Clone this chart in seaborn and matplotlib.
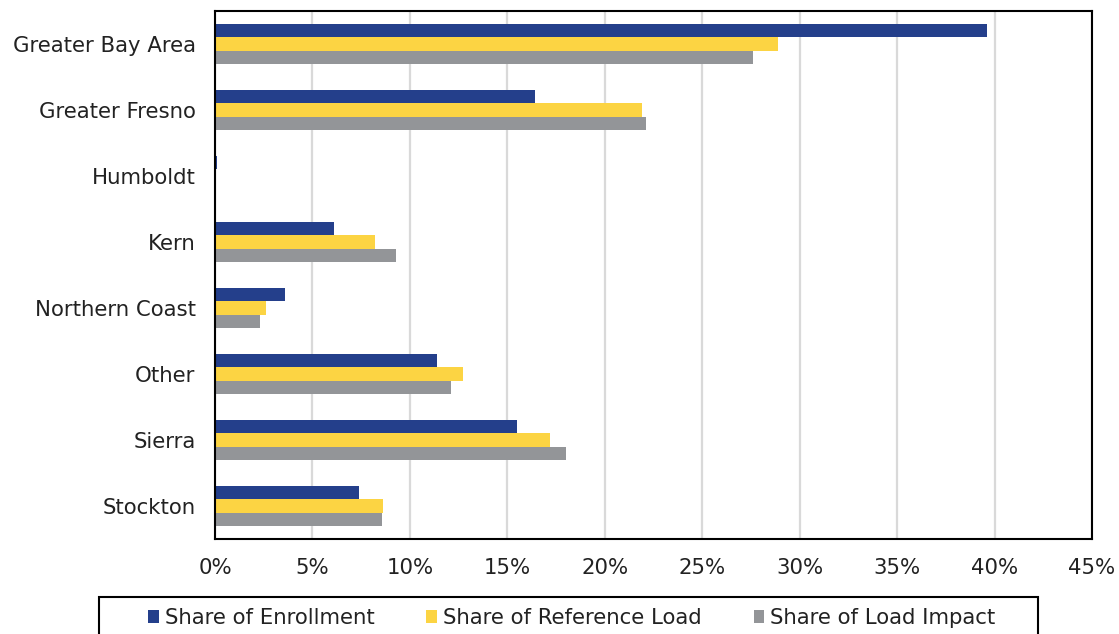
import matplotlib
matplotlib.use("Agg")
import matplotlib.pyplot as plt
from matplotlib.patches import Rectangle
from matplotlib.ticker import FixedLocator, PercentFormatter
import numpy as np
import pandas as pd
import seaborn as sns

# Regions and their shares (percent)
regions = ["Greater Bay Area", "Greater Fresno", "Humboldt", "Kern",
           "Northern Coast", "Other", "Sierra", "Stockton"]
enrollment = [39.6, 16.4, 0.1, 6.1, 3.6, 11.4, 15.5, 7.4]
reference_load = [28.9, 21.9, 0.0, 8.2, 2.6, 12.7, 17.2, 8.6]
load_impact = [27.6, 22.1, 0.0, 9.3, 2.3, 12.1, 18.0, 8.55]

series_names = ["Share of Enrollment", "Share of Reference Load",
                "Share of Load Impact"]
series_colors = ["#243F8B", "#FCD443", "#939598"]
x_ticks = [0, 5, 10, 15, 20, 25, 30, 35, 40, 45]

df = pd.DataFrame({
    "Region": regions * 3,
    "Series": np.repeat(series_names, len(regions)),
    "Share": enrollment + reference_load + load_impact,
})

sns.set_style("white")
plt.rcParams["font.family"] = ["DejaVu Sans"]
text_color = "#222222"
fs = 15.3

fig = plt.figure(figsize=(11.19, 6.34), dpi=100)
ax = fig.add_axes([215 / 1119, 1 - 539 / 634, 877 / 1119, 528 / 634])

sns.barplot(data=df, y="Region", x="Share", hue="Series", order=regions,
            hue_order=series_names, palette=series_colors, saturation=1,
            orient="h", width=0.62, linewidth=0, ax=ax, legend=True)

ax.set_xlim(0, 45)
ax.set_ylim(len(regions) - 0.5, -0.5)
ax.xaxis.set_major_locator(FixedLocator(x_ticks))
ax.xaxis.set_major_formatter(PercentFormatter(decimals=0))
ax.set_xlabel("")
ax.set_ylabel("")

# vertical gridlines
ax.grid(axis="x", color="#D9D9D9", linewidth=1.6)
ax.grid(axis="y", visible=False)
ax.set_axisbelow(True)

for side in ["left", "right", "top", "bottom"]:
    ax.spines[side].set_visible(True)
    ax.spines[side].set_color("black")
    ax.spines[side].set_linewidth(1.5)

ax.tick_params(axis="x", length=0, pad=13.5, labelsize=fs, labelcolor=text_color)
ax.tick_params(axis="y", which="major", length=0, pad=14, labelsize=fs,
               labelcolor=text_color)
# tick marks between the category groups
ax.yaxis.set_minor_locator(FixedLocator(np.arange(-0.5, len(regions), 1.0)))
ax.tick_params(axis="y", which="minor", direction="out", length=5,
               width=1.5, color="black")

# legend below the plot
handles, labels = ax.get_legend_handles_labels()
ax.get_legend().remove()
fig.legend(handles, labels, ncol=3, frameon=False, loc="center left",
           bbox_to_anchor=(148 / 1119, 1 - 618 / 634),
           bbox_transform=fig.transFigure, borderpad=0, borderaxespad=0,
           handlelength=0.5, handleheight=0.5, handletextpad=0.28,
           columnspacing=2.45, fontsize=fs, labelcolor=text_color)
fig.patches.append(Rectangle((99 / 1119, -0.05), (1038 - 99) / 1119,
                             0.05 + 1 - 597 / 634, transform=fig.transFigure,
                             fill=False, edgecolor="black", linewidth=1.5))

fig.savefig("out.png", dpi=100)
